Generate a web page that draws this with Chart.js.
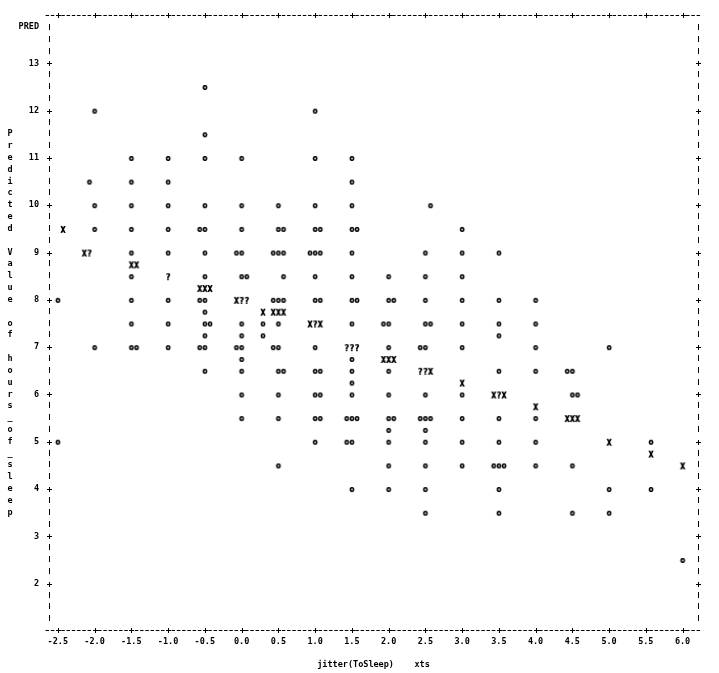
<!DOCTYPE html>
<html lang="en">
<head>
<meta charset="UTF-8">
<title>PRED by jitter(ToSleep)</title>
<script src="https://cdn.jsdelivr.net/npm/chart.js"></script>
<style>
    body { margin: 0; background: #fff; }
    #plot { display: block; }
</style>
</head>
<body>
<canvas id="plot" width="719" height="673"></canvas>
<script>
// axis ticks of the line-printer plot
const xTicks = [-2.5, -2.0, -1.5, -1.0, -0.5, 0.0, 0.5, 1.0, 1.5, 2.0, 2.5, 3.0, 3.5, 4.0, 4.5, 5.0, 5.5, 6.0];
const yTicks = [2, 3, 4, 5, 6, 7, 8, 9, 10, 11, 12, 13];
const yTitle = 'Predicted Value of hours_of_sleep';
const xTitle = 'jitter(ToSleep)    xts';
const yName = 'PRED';

// printed symbols, one entry per character: [PRED, [jitter(ToSleep) ...]]
const oMarks = [
    [12.5, [-0.50]],
    [12.0, [-2.00, 1.00]],
    [11.5, [-0.50]],
    [11.0, [-1.50, -1.00, -0.50, 0.00, 1.00, 1.50]],
    [10.5, [-2.07, -1.50, -1.00, 1.50]],
    [10.0, [-2.00, -1.50, -1.00, -0.50, 0.00, 0.50, 1.00, 1.50, 2.57]],
    [9.5, [-2.00, -1.50, -1.00, -0.57, -0.50, 0.00, 0.50, 0.57, 1.00, 1.07, 1.50, 1.57, 3.00]],
    [9.0, [-1.50, -1.00, -0.50, -0.07, 0.00, 0.43, 0.50, 0.57, 0.93, 1.00, 1.07, 1.50, 2.50, 3.00, 3.50]],
    [8.5, [-1.50, -0.50, 0.00, 0.07, 0.57, 1.00, 1.50, 2.00, 2.50, 3.00]],
    [8.0, [-2.50, -1.50, -1.00, -0.57, -0.50, 0.43, 0.50, 0.57, 1.00, 1.07, 1.50, 1.57, 2.00, 2.07, 2.50, 3.00, 3.50, 4.00]],
    [7.75, [-0.50]],
    [7.5, [-1.50, -1.00, -0.50, -0.43, 0.00, 0.29, 0.50, 1.50, 1.93, 2.00, 2.50, 2.57, 3.00, 3.50, 4.00]],
    [7.25, [-0.50, 0.00, 0.29, 3.50]],
    [7.0, [-2.00, -1.50, -1.43, -1.00, -0.57, -0.50, -0.07, 0.00, 0.43, 0.50, 1.00, 2.00, 2.43, 2.50, 3.00, 4.00, 5.00]],
    [6.75, [0.00, 1.50]],
    [6.5, [-0.50, 0.00, 0.50, 0.57, 1.00, 1.07, 1.50, 2.00, 3.50, 4.00, 4.43, 4.50]],
    [6.25, [1.50]],
    [6.0, [0.00, 0.50, 1.00, 1.07, 1.50, 2.00, 2.50, 3.00, 4.50, 4.57]],
    [5.5, [0.00, 0.50, 1.00, 1.07, 1.43, 1.50, 1.57, 2.00, 2.07, 2.43, 2.50, 2.57, 3.00, 3.50, 4.00]],
    [5.25, [2.00, 2.50]],
    [5.0, [-2.50, 1.00, 1.43, 1.50, 2.00, 2.50, 3.00, 3.50, 4.00, 5.57]],
    [4.5, [0.50, 2.00, 2.50, 3.00, 3.43, 3.50, 3.57, 4.00, 4.50]],
    [4.0, [1.50, 2.00, 2.50, 3.50, 5.00, 5.57]],
    [3.5, [2.50, 3.50, 4.50, 5.00]],
    [2.5, [6.00]]
];
const xMarks = [
    [9.5, [-2.43]],
    [9.0, [-2.14]],
    [8.75, [-1.50, -1.43]],
    [8.25, [-0.57, -0.50, -0.43]],
    [8.0, [-0.07]],
    [7.75, [0.29, 0.43, 0.50, 0.57]],
    [7.5, [0.93, 1.07]],
    [6.75, [1.93, 2.00, 2.07]],
    [6.5, [2.57]],
    [6.25, [3.00]],
    [6.0, [3.43, 3.57]],
    [5.75, [4.00]],
    [5.5, [4.43, 4.50, 4.57]],
    [5.0, [5.00]],
    [4.75, [5.57]],
    [4.5, [6.00]]
];
const qMarks = [
    [9.0, [-2.07]],
    [8.5, [-1.00]],
    [8.0, [0.00, 0.07]],
    [7.5, [1.00]],
    [7.0, [1.43, 1.50, 1.57]],
    [6.5, [2.43, 2.50]],
    [6.0, [3.50]]
];

const INK = '#000';
const FONT_FAMILY = '"DejaVu Sans Mono", "Liberation Mono", monospace';
const textFont = { family: FONT_FAMILY, size: 8.5, weight: 'bold' };
const CSS_FONT = 'bold 8.5px ' + FONT_FAMILY;
const COLS_PER_TICK = 7;   // printer columns between two x ticks
const ROWS_PER_UNIT = 4;   // printer lines per unit of PRED

function toPoints(rows) {
    const pts = [];
    rows.forEach(([py, xs]) => xs.forEach(px => pts.push({ x: px, y: py })));
    return pts;
}

// small canvas holding one printer character, used as the point style
function glyph(ch) {
    const c = document.createElement('canvas');
    c.width = 8;
    c.height = 10;
    const g = c.getContext('2d');
    g.font = CSS_FONT;
    g.fillStyle = INK;
    g.textAlign = 'center';
    const m = g.measureText(ch);
    const base = (c.height + m.actualBoundingBoxAscent - m.actualBoundingBoxDescent) / 2;
    // struck twice, a little apart, like a heavy printer ribbon
    g.fillText(ch, c.width / 2 - 0.3, base);
    g.fillText(ch, c.width / 2 + 0.3, base);
    return c;
}

function symbolSet(label, rows, ch) {
    return {
        label: label,
        data: toPoints(rows),
        pointStyle: glyph(ch),
        pointRadius: 4,
        showLine: false
    };
}

// frame made of '-' , '|' and '+' like the printer output
const printerFrame = {
    id: 'printerFrame',
    beforeDatasetsDraw(chart) {
        const { ctx, chartArea: a, scales: { x, y } } = chart;
        const x0 = x.getPixelForValue(xTicks[0]);
        const colW = (x.getPixelForValue(xTicks[1]) - x0) / COLS_PER_TICK;
        const rowH = (y.getPixelForValue(0) - y.getPixelForValue(1)) / ROWS_PER_UNIT;
        const yTop = Math.round(a.top) + 0.5;
        const yBot = Math.round(a.bottom) + 0.5;
        const xL = Math.round(a.left) + 0.5;
        const xR = Math.round(a.right) + 0.5;
        ctx.save();
        ctx.strokeStyle = INK;
        ctx.lineWidth = 1;
        ctx.beginPath();
        const kMin = Math.ceil((a.left - 3 - x0) / colW);
        const kMax = Math.floor((a.right + 1 - x0) / colW);
        for (let k = kMin; k <= kMax; k++) {
            const c = x0 + k * colW;
            if (k >= 0 && k % COLS_PER_TICK === 0 && k / COLS_PER_TICK < xTicks.length) continue;
            [yTop, yBot].forEach(yy => { ctx.moveTo(c - 1.75, yy); ctx.lineTo(c + 1.75, yy); });
        }
        const r0 = y.getPixelForValue(y.max);
        for (let n = 1; r0 + n * rowH < a.bottom - rowH / 2; n++) {
            const r = Math.round(r0 + n * rowH);
            const val = y.max - n / ROWS_PER_UNIT;
            if (yTicks.some(t => Math.abs(t - val) < 0.1)) continue;
            [xL, xR].forEach(xx => { ctx.moveTo(xx, r - 3); ctx.lineTo(xx, r + 3); });
        }
        ctx.stroke();

        const plus = (px, py) => {
            px = Math.round(px) + 0.5;
            py = Math.round(py) + 0.5;
            ctx.beginPath();
            ctx.moveTo(px - 2.5, py); ctx.lineTo(px + 2.5, py);
            ctx.moveTo(px, py - 2.5); ctx.lineTo(px, py + 2.5);
            ctx.stroke();
        };
        xTicks.forEach(v => {
            const px = x.getPixelForValue(v);
            plus(px, a.top);
            plus(px, a.bottom);
        });
        yTicks.forEach(v => {
            const py = y.getPixelForValue(v);
            plus(a.left, py);
            plus(a.right, py);
        });

        ctx.fillStyle = INK;
        ctx.font = CSS_FONT;
        ctx.textBaseline = 'alphabetic';
        ctx.textAlign = 'right';
        ctx.fillText(yName, a.left - 10, a.top + 13.5);

        // vertical title, one character per printer row
        ctx.textAlign = 'center';
        const chars = yTitle.split('');
        const mid = (y.min + y.max) / 2;
        const first = mid + (chars.length - 1) / 2 / ROWS_PER_UNIT;
        chars.forEach((ch, i) => {
            const py = y.getPixelForValue(first - i / ROWS_PER_UNIT);
            ctx.fillText(ch, 10, py + 3);
        });
        ctx.restore();
    }
};

const noGrid = { display: false, drawTicks: false };
const noBorder = { display: false };

new Chart(document.getElementById('plot'), {
    type: 'scatter',
    data: {
        datasets: [
            symbolSet('o', oMarks, 'o'),
            symbolSet('X', xMarks, 'X'),
            symbolSet('?', qMarks, '?')
        ]
    },
    options: {
        responsive: false,
        animation: false,
        devicePixelRatio: 1,
        layout: { padding: 0 },
        plugins: {
            legend: { display: false },
            tooltip: { enabled: false }
        },
        scales: {
            x: {
                type: 'linear',
                position: 'bottom',
                min: -2.62,
                max: 6.21,
                afterBuildTicks: s => { s.ticks = xTicks.map(v => ({ value: v })); },
                afterFit: s => { s.height = 43; },
                ticks: {
                    color: INK,
                    font: textFont,
                    padding: 7,
                    maxRotation: 0,
                    autoSkip: false,
                    callback: v => Number(v).toFixed(1)
                },
                grid: noGrid,
                border: noBorder,
                title: {
                    display: true,
                    text: xTitle,
                    color: INK,
                    font: textFont,
                    padding: { top: 0, bottom: 3 }
                }
            },
            x2: {
                type: 'linear',
                axis: 'x',
                position: 'top',
                min: -2.62,
                max: 6.21,
                afterFit: s => { s.height = 6; },
                ticks: { display: false },
                grid: noGrid,
                border: noBorder
            },
            y: {
                type: 'linear',
                position: 'left',
                min: 1.02,
                max: 14.02,
                afterBuildTicks: s => { s.ticks = yTicks.map(v => ({ value: v })); },
                afterFit: s => { s.width = 49; },
                ticks: {
                    color: INK,
                    font: textFont,
                    padding: 10,
                    autoSkip: false,
                    callback: v => String(v)
                },
                grid: noGrid,
                border: noBorder
            },
            y2: {
                type: 'linear',
                axis: 'y',
                position: 'right',
                min: 1.02,
                max: 14.02,
                afterFit: s => { s.width = 21; },
                ticks: { display: false },
                grid: noGrid,
                border: noBorder
            }
        }
    },
    plugins: [printerFrame]
});
</script>
</body>
</html>
